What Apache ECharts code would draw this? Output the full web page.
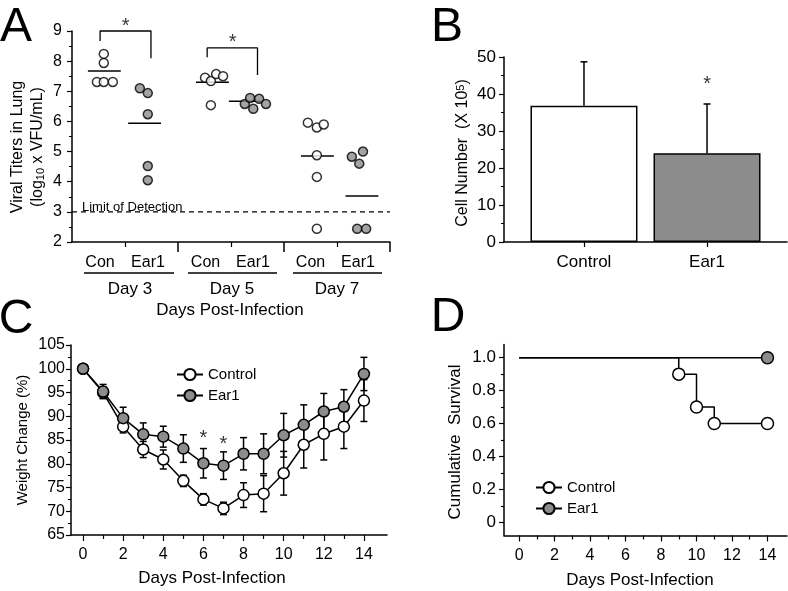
<!DOCTYPE html>
<html><head><meta charset="utf-8">
<script src="https://cdn.jsdelivr.net/npm/echarts@6/dist/echarts.min.js"></script>
<style>html,body{margin:0;padding:0;background:#fff}#c{width:788px;height:591px}</style>
</head><body><div id="c"></div>
<script>
// ---------- Panel A: viral titers ----------
const aGroupLabels = ['Con', 'Ear1', 'Con', 'Ear1', 'Con', 'Ear1'];
const aDayLabels = ['Day 3', 'Day 5', 'Day 7'];
const aControlPts = [[0.6,8.24],[0.6,7.94],[0.47,7.31],[0.6,7.31],[0.77,7.31],
  [2.51,7.45],[2.62,7.34],[2.72,7.57],[2.85,7.5],[2.62,6.54],
  [4.45,5.96],[4.62,5.8],[4.75,5.9],[4.62,4.88],[4.62,4.16],[4.62,2.44]];
const aEar1Pts = [[1.28,7.1],[1.43,6.94],[1.43,6.24],[1.43,4.52],[1.43,4.05],
  [3.26,6.58],[3.36,6.78],[3.42,6.42],[3.53,6.75],[3.66,6.58],
  [5.28,4.83],[5.42,4.6],[5.49,5.0],[5.38,2.44],[5.55,2.44]];
const aMeans = [[0.61,7.67],[1.37,5.94],[2.65,7.3],[3.27,6.67],[4.63,4.85],[5.47,3.53]];
const aLimit = 3;
const aBracket1 = [[0.53,8.67],[0.53,9.0],[1.49,9.0],[1.49,8.1]];
const aBracket2 = [[2.55,8.13],[2.55,8.44],[3.5,8.44],[3.5,7.54]];
const aStars = [[1.01,9.3],[3.03,8.8]];

// ---------- Panel B: cell number ----------
const bCategories = ['Control', 'Ear1'];
const bValues = [36.8, 24.0];
const bErrors = [11.9, 13.3];
const bStars = [[1, 44]];

// ---------- Panel C: weight change ----------
const cDays = [0,1,2,3,4,5,6,7,8,9,10,11,12,13,14];
const cControl = [100, 95.0, 87.8, 83.0, 80.9, 76.4, 72.5, 70.6, 73.4, 73.7, 78.0, 84.0, 86.3, 87.8, 93.3];
const cControlErr = [0, 1.2, 1.3, 1.7, 2.0, 1.2, 1.2, 1.3, 2.6, 3.8, 4.6, 4.9, 5.5, 4.6, 4.4];
const cEar1 = [100, 95.2, 89.6, 86.2, 85.7, 83.2, 80.1, 79.6, 82.1, 82.1, 86.0, 88.2, 91.0, 92.0, 98.9];
const cEar1Err = [0, 1.5, 2.3, 2.4, 2.2, 2.9, 3.1, 2.9, 3.4, 4.2, 4.6, 4.2, 3.8, 3.6, 3.5];
const cStars = [[6, 86.4], [7, 85.1]];

// ---------- Panel D: survival ----------
const dControl = [[0,1.0],[9,0.9],[10,0.7],[11,0.6],[14,0.6]];
const dEar1 = [[0,1.0],[14,1.0]];
const dYTicks = [0, 0.2, 0.4, 0.6, 0.8, 1.0];
const dYMinor = [0.1, 0.3, 0.5, 0.7, 0.9];
const xEven = [0,2,4,6,8,10,12,14];
const xOdd = [1,3,5,7,9,11,13];

const FONT = "'Liberation Sans', Arial, sans-serif";
const GRAY = '#8c8c8c';
const BLACK = '#000';

function axisBase(extra) {
  return Object.assign({
    type: 'value',
    axisLine: { show: true, onZero: false, lineStyle: { color: BLACK, width: 1.5 } },
    axisTick: { show: true, length: 5, lineStyle: { color: BLACK, width: 1.2 } },
    axisLabel: { color: BLACK, fontFamily: FONT, fontSize: 16 },
    splitLine: { show: false }
  }, extra);
}
function tickOnly(extra) {
  return Object.assign({
    type: 'value',
    axisLine: { show: false, onZero: false },
    axisTick: { show: true, length: 3, lineStyle: { color: BLACK, width: 1.2 } },
    axisLabel: { show: false },
    splitLine: { show: false }
  }, extra);
}

const xAxis = [
  axisBase({ gridIndex: 0, min: 0, max: 6, axisTick: { show: true, length: 10, customValues: [2,4,6], lineStyle: { color: BLACK, width: 1.5 } }, axisLabel: { show: false } }),
  tickOnly({ gridIndex: 0, min: 0, max: 6, position: 'bottom', axisTick: { show: true, length: 5, customValues: [1,3,5], lineStyle: { color: BLACK, width: 1.2 } } }),
  axisBase({ gridIndex: 1, min: -0.65, max: 1.65,
    axisTick: { show: true, length: 5, customValues: [0,1], lineStyle: { color: BLACK, width: 1.2 } },
    axisLabel: { color: BLACK, fontFamily: FONT, fontSize: 17, margin: 12, customValues: [0,1], formatter: v => bCategories[Math.round(v)] } }),
  axisBase({ gridIndex: 2, min: -0.6, max: 15.15,
    axisTick: { show: true, length: 6, customValues: xEven, lineStyle: { color: BLACK, width: 1.2 } },
    axisLabel: { color: BLACK, fontFamily: FONT, fontSize: 16, margin: 12, customValues: xEven } }),
  tickOnly({ gridIndex: 2, min: -0.6, max: 15.15, position: 'bottom', axisTick: { show: true, length: 4, customValues: xOdd, lineStyle: { color: BLACK, width: 1.2 } } }),
  axisBase({ gridIndex: 3, min: -0.85, max: 15.1,
    axisTick: { show: true, length: 6, customValues: xEven, lineStyle: { color: BLACK, width: 1.2 } },
    axisLabel: { color: BLACK, fontFamily: FONT, fontSize: 16, margin: 12, customValues: xEven } }),
  tickOnly({ gridIndex: 3, min: -0.85, max: 15.1, position: 'bottom', axisTick: { show: true, length: 4, customValues: xOdd, lineStyle: { color: BLACK, width: 1.2 } } })
];

const yAxis = [
  axisBase({ gridIndex: 0, min: 2, max: 9, interval: 1, minorTick: { show: true, splitNumber: 2, length: 3, lineStyle: { color: BLACK } },
    axisLabel: { color: BLACK, fontFamily: FONT, fontSize: 16, margin: 10 } }),
  axisBase({ gridIndex: 1, min: 0, max: 50, interval: 10, minorTick: { show: true, splitNumber: 2, length: 3, lineStyle: { color: BLACK } },
    axisLabel: { color: BLACK, fontFamily: FONT, fontSize: 17, margin: 8 } }),
  axisBase({ gridIndex: 2, min: 65, max: 105, interval: 5, minorTick: { show: true, splitNumber: 2, length: 3, lineStyle: { color: BLACK } },
    axisLabel: { color: BLACK, fontFamily: FONT, fontSize: 16, margin: 6 } }),
  axisBase({ gridIndex: 3, min: -0.08, max: 1.08,
    axisTick: { show: true, length: 5, customValues: dYTicks, lineStyle: { color: BLACK, width: 1.2 } },
    axisLabel: { color: BLACK, fontFamily: FONT, fontSize: 17, margin: 8, customValues: dYTicks, formatter: v => (Math.abs(v) < 1e-9 ? '0' : v.toFixed(1)) } }),
  tickOnly({ gridIndex: 3, min: -0.08, max: 1.08, position: 'left', axisTick: { show: true, length: 3, customValues: dYMinor, lineStyle: { color: BLACK, width: 1.2 } } })
];

function hLineRender(params, api) {
  const c = api.value(0), v = api.value(1);
  const p1 = api.coord([c - 0.31, v]);
  const p2 = api.coord([c + 0.31, v]);
  return { type: 'line', shape: { x1: p1[0], y1: p1[1], x2: p2[0], y2: p2[1] }, style: { stroke: BLACK, lineWidth: 1.5 } };
}
function errRender(both) {
  return function (params, api) {
    const x = api.value(0), v = api.value(1), e = api.value(2);
    if (!e) return null;
    const top = api.coord([x, v + e]);
    const bot = api.coord(both ? [x, v - e] : [x, v]);
    const w = 3.5;
    const ch = [
      { type: 'line', shape: { x1: top[0], y1: top[1], x2: bot[0], y2: bot[1] }, style: { stroke: BLACK, lineWidth: 1.5 } },
      { type: 'line', shape: { x1: top[0] - w, y1: top[1], x2: top[0] + w, y2: top[1] }, style: { stroke: BLACK, lineWidth: 1.5 } }
    ];
    if (both) ch.push({ type: 'line', shape: { x1: bot[0] - w, y1: bot[1], x2: bot[0] + w, y2: bot[1] }, style: { stroke: BLACK, lineWidth: 1.5 } });
    return { type: 'group', children: ch };
  };
}
function starSeries(xi, yi, data, size) {
  return {
    type: 'scatter', xAxisIndex: xi, yAxisIndex: yi, data: data, symbolSize: 1, silent: true, z: 5, clip: false,
    itemStyle: { color: 'rgba(0,0,0,0)' },
    label: { show: true, position: 'inside', formatter: '*', fontSize: size, fontFamily: FONT, color: BLACK, offset: [0, 5] }
  };
}
const openItem = { color: '#fff', borderColor: BLACK, borderWidth: 1.5 };
const grayItem = { color: GRAY, borderColor: BLACK, borderWidth: 1.5 };

const series = [
  // Panel A
  { type: 'line', xAxisIndex: 0, yAxisIndex: 0, data: [[0, aLimit], [6, aLimit]], symbol: 'none', silent: true,
    lineStyle: { color: BLACK, width: 1.2, type: [5, 4] } },
  { type: 'line', xAxisIndex: 0, yAxisIndex: 0, data: aBracket1, symbol: 'none', silent: true, clip: false, lineStyle: { color: BLACK, width: 1.3 } },
  { type: 'line', xAxisIndex: 0, yAxisIndex: 0, data: aBracket2, symbol: 'none', silent: true, lineStyle: { color: BLACK, width: 1.3 } },
  { type: 'custom', xAxisIndex: 0, yAxisIndex: 0, data: aMeans, renderItem: hLineRender, silent: true },
  { type: 'scatter', xAxisIndex: 0, yAxisIndex: 0, data: aControlPts, symbol: 'circle', symbolSize: 9, itemStyle: openItem, z: 3 },
  { type: 'scatter', xAxisIndex: 0, yAxisIndex: 0, data: aEar1Pts, symbol: 'circle', symbolSize: 9, itemStyle: grayItem, z: 3 },
  starSeries(0, 0, aStars, 20),
  // Panel B
  { type: 'bar', xAxisIndex: 2, yAxisIndex: 1, barWidth: 107,
    data: bValues.map((v, i) => ({ value: [i, v], itemStyle: { color: i === 0 ? '#fff' : GRAY, borderColor: BLACK, borderWidth: 1.5 } })) },
  { type: 'custom', xAxisIndex: 2, yAxisIndex: 1, data: bValues.map((v, i) => [i, v, bErrors[i]]), renderItem: errRender(false), silent: true, z: 3 },
  starSeries(2, 1, bStars, 20),
  // Panel C
  { type: 'custom', xAxisIndex: 3, yAxisIndex: 2, data: cDays.map((d, i) => [d, cControl[i], cControlErr[i]]), renderItem: errRender(true), silent: true, z: 1 },
  { type: 'custom', xAxisIndex: 3, yAxisIndex: 2, data: cDays.map((d, i) => [d, cEar1[i], cEar1Err[i]]), renderItem: errRender(true), silent: true, z: 1 },
  { name: 'Control', type: 'line', xAxisIndex: 3, yAxisIndex: 2, data: cDays.map((d, i) => [d, cControl[i]]),
    symbol: 'circle', symbolSize: 11, showAllSymbol: true, itemStyle: openItem, lineStyle: { color: BLACK, width: 1.5 }, z: 3 },
  { name: 'Ear1', type: 'line', xAxisIndex: 3, yAxisIndex: 2, data: cDays.map((d, i) => [d, cEar1[i]]),
    symbol: 'circle', symbolSize: 11, showAllSymbol: true, itemStyle: grayItem, lineStyle: { color: BLACK, width: 1.5 }, z: 4 },
  starSeries(3, 2, cStars, 20),
  // Panel D
  { name: 'Ear1', type: 'line', xAxisIndex: 5, yAxisIndex: 3, step: 'end',
    data: dEar1.map((p, i) => (i === 0 ? { value: p, symbol: 'none' } : p)),
    symbol: 'circle', symbolSize: 12, showAllSymbol: true, itemStyle: grayItem, lineStyle: { color: BLACK, width: 1.5 }, z: 3 },
  { name: 'Control', type: 'line', xAxisIndex: 5, yAxisIndex: 3, step: 'end',
    data: dControl.map((p, i) => (i === 0 ? { value: p, symbol: 'none' } : p)),
    symbol: 'circle', symbolSize: 12, showAllSymbol: true, itemStyle: openItem, lineStyle: { color: BLACK, width: 1.5 }, z: 4 }
];

function txt(x, y, text, size, extra) {
  return Object.assign({
    type: 'text', x: x, y: y, silent: true,
    style: Object.assign({ text: text, fontSize: size, fontFamily: FONT, fill: BLACK, align: 'center', verticalAlign: 'middle', textAlign: 'center', textVerticalAlign: 'middle' }, (extra && extra.style) || {})
  }, extra ? { rotation: extra.rotation || 0 } : {});
}
const ROT = Math.PI / 2;
const graphics = [
  txt(16, 28, 'A', 48),
  txt(447, 28, 'B', 48),
  txt(16, 320, 'C', 48),
  txt(448, 318, 'D', 48),
  // Panel A y title
  txt(18, 147, 'Viral Titers in Lung', 16, { rotation: ROT }),
  txt(38, 147, '(log{sub|10} x VFU/mL)', 16, { rotation: ROT, style: { rich: { sub: { fontSize: 11, fontFamily: FONT, verticalAlign: 'bottom', lineHeight: 11 } } } }),
  txt(82, 207, 'Limit of Detection', 13, { style: { align: 'left', textAlign: 'left' } }),
  // Panel A group labels
  ...aGroupLabels.map((t, i) => txt([100, 148, 205.5, 253, 310.5, 358][i], 263, t, 16)),
  { type: 'line', silent: true, shape: { x1: 84, y1: 273, x2: 174, y2: 273 }, style: { stroke: BLACK, lineWidth: 1.5 } },
  { type: 'line', silent: true, shape: { x1: 188, y1: 273, x2: 277, y2: 273 }, style: { stroke: BLACK, lineWidth: 1.5 } },
  { type: 'line', silent: true, shape: { x1: 293, y1: 273, x2: 382, y2: 273 }, style: { stroke: BLACK, lineWidth: 1.5 } },
  ...aDayLabels.map((t, i) => txt([130, 232, 337][i], 289, t, 17)),
  txt(230, 310, 'Days Post-Infection', 17),
  // Panel B y title
  txt(463, 153, 'Cell Number  (X 10{sup|5})', 16, { rotation: ROT, style: { rich: { sup: { fontSize: 11, fontFamily: FONT, verticalAlign: 'top', lineHeight: 11 } } } }),
  // Panel C titles
  txt(23, 440, 'Weight Change (%)', 15, { rotation: ROT }),
  txt(212, 578, 'Days Post-Infection', 17),
  // Panel D titles
  txt(455, 442, 'Cumulative  Survival', 17, { rotation: ROT }),
  txt(640, 580, 'Days Post-Infection', 17)
];

const chart = echarts.init(document.getElementById('c'), null, { renderer: 'canvas' });
chart.setOption({
  animation: false,
  backgroundColor: '#fff',
  textStyle: { fontFamily: FONT },
  grid: [
    { left: 72, top: 31, width: 318, height: 211 },
    { left: 504, top: 57, width: 283, height: 185 },
    { left: 71, top: 345, width: 316, height: 190 },
    { left: 504, top: 344.5, width: 283, height: 191 }
  ],
  xAxis: xAxis,
  yAxis: yAxis,
  legend: [
    { data: ['Control', 'Ear1'], left: 171, top: 362, orient: 'vertical', itemWidth: 26, itemHeight: 14, itemGap: 6, selectedMode: false,
      textStyle: { fontSize: 15, fontFamily: FONT, color: BLACK } },
    { data: ['Control', 'Ear1'], left: 530, top: 475, orient: 'vertical', itemWidth: 26, itemHeight: 14, itemGap: 6, selectedMode: false,
      textStyle: { fontSize: 15, fontFamily: FONT, color: BLACK } }
  ],
  series: series,
  graphic: { elements: graphics }
});
</script>
</body></html>
